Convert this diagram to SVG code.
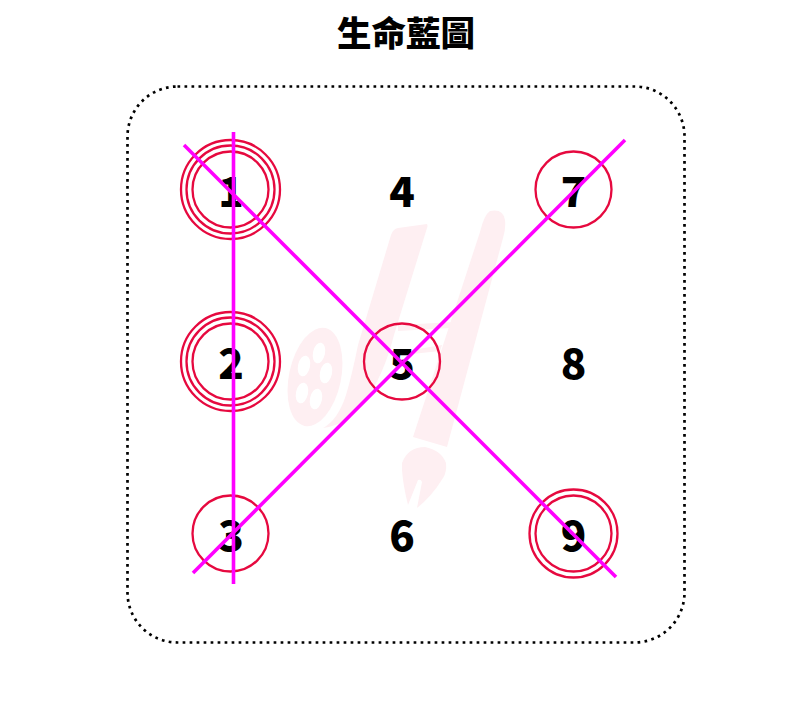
<svg xmlns="http://www.w3.org/2000/svg" width="812" height="720" viewBox="0 0 812 720">
<style>
text{font-family:"Noto Sans CJK TC","Noto Sans CJK SC",sans-serif;font-weight:900;fill:#000;text-anchor:middle}
.n{font-size:42px}
.c{fill:none;stroke:#e6093f;stroke-width:2.3}
.l{stroke:#f0f;stroke-width:3.6;fill:none}
.w{fill:#feeff2}
.h{fill:#fff}
</style>
<rect width="812" height="720" fill="#fff"/>
<text x="406" y="46" style="font-size:34.500px">生命藍圖</text>
<rect id="frame" x="127.500" y="86.500" width="557" height="556" rx="50" fill="none" stroke="#000" stroke-width="2.700" stroke-dasharray="2.700 4.300"/>
<g id="watermark">
<ellipse class="w" cx="315" cy="377" rx="26" ry="50" transform="rotate(12 315 377)"/>
<ellipse class="h" cx="319" cy="353" rx="6" ry="10.500" transform="rotate(12 319 353)"/>
<ellipse class="h" cx="304" cy="366" rx="6" ry="10.500" transform="rotate(12 304 366)"/>
<ellipse class="h" cx="326" cy="373" rx="6" ry="10.500" transform="rotate(12 326 373)"/>
<ellipse class="h" cx="302" cy="393" rx="6" ry="10.500" transform="rotate(12 302 393)"/>
<ellipse class="h" cx="316" cy="399" rx="6" ry="10.500" transform="rotate(12 316 399)"/>
<path class="w" d="M427 224Q428 226 427 228L394 335Q384 375 364 403Q347 425 323 428Q338 420 346 395Q352 375 358 345L391 235Q393 229 398 228Z"/>
<path class="w" d="M398 325L455 322L450 328L398 331Z"/>
<path class="w" d="M412 350L442 345L440 351L412 354Z"/>
<path class="w" d="M490 211Q503 208 505 220Q506 228 503 238L447 447L413 437L480 232Q484 215 490 211Z"/>
<path class="w" d="M402 463Q408 447 425 447Q441 450 446 463Q447 472 443 478Q432 496 417 508L422 482Q421 479 418 480L408 505Q403 485 402 470Z"/>
</g>
<g id="node1"><circle class="c" cx="230.500" cy="189.500" r="38"/><circle class="c" cx="230.500" cy="189.500" r="44"/><circle class="c" cx="230.500" cy="189.500" r="49.500"/><text class="n" x="231" y="207">1</text></g>
<g id="node2"><circle class="c" cx="230.500" cy="361.500" r="38"/><circle class="c" cx="230.500" cy="361.500" r="44"/><circle class="c" cx="230.500" cy="361.500" r="49.500"/><text class="n" x="231" y="379">2</text></g>
<g id="node3"><circle class="c" cx="230.500" cy="533.500" r="38"/><text class="n" x="231" y="551">3</text></g>
<g id="node4"><text class="n" x="402" y="207">4</text></g>
<g id="node5"><circle class="c" cx="402" cy="361.500" r="38"/><text class="n" x="402" y="379">5</text></g>
<g id="node6"><text class="n" x="402" y="551">6</text></g>
<g id="node7"><circle class="c" cx="573.500" cy="189.500" r="38"/><text class="n" x="573.500" y="207">7</text></g>
<g id="node8"><text class="n" x="573.500" y="379">8</text></g>
<g id="node9"><circle class="c" cx="573.500" cy="533.500" r="38"/><circle class="c" cx="573.500" cy="533.500" r="44"/><text class="n" x="573.500" y="551">9</text></g>
<g id="connectors">
<line class="l" x1="233.500" y1="132" x2="233.500" y2="584"/>
<line class="l" x1="184" y1="145" x2="616" y2="577"/>
<line class="l" x1="193" y1="573" x2="625" y2="140"/>
</g>
</svg>
